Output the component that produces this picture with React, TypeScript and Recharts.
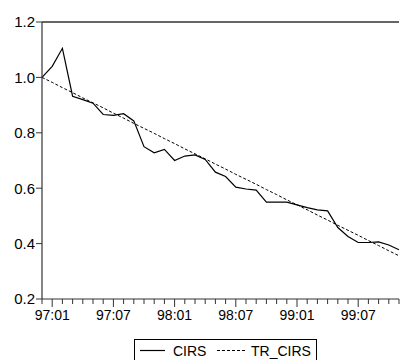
import React from 'react';
import { LineChart, Line, XAxis, YAxis, ReferenceLine } from 'recharts';

const months = [
  '96:12',
  '97:01', '97:02', '97:03', '97:04', '97:05', '97:06', '97:07', '97:08', '97:09', '97:10', '97:11', '97:12',
  '98:01', '98:02', '98:03', '98:04', '98:05', '98:06', '98:07', '98:08', '98:09', '98:10', '98:11', '98:12',
  '99:01', '99:02', '99:03', '99:04', '99:05', '99:06', '99:07', '99:08', '99:09', '99:10', '99:11',
];

const cirs = [
  1.0, 1.04, 1.105, 0.932, 0.92, 0.907, 0.866, 0.863, 0.869, 0.843, 0.75, 0.728,
  0.74, 0.7, 0.716, 0.72, 0.704, 0.658, 0.642, 0.604, 0.597, 0.593, 0.55, 0.55,
  0.55, 0.54, 0.53, 0.522, 0.518, 0.458, 0.426, 0.404, 0.404, 0.406, 0.395, 0.378,
];

const trCirs = [
  1.0, 0.982, 0.963, 0.945, 0.926, 0.908, 0.89, 0.871, 0.853, 0.834, 0.816, 0.798,
  0.779, 0.761, 0.742, 0.724, 0.706, 0.687, 0.669, 0.65, 0.632, 0.614, 0.595, 0.577,
  0.558, 0.54, 0.522, 0.503, 0.485, 0.466, 0.448, 0.43, 0.411, 0.393, 0.374, 0.356,
];

const yTicks = [0.2, 0.4, 0.6, 0.8, 1.0, 1.2];
const majorMonths = ['01', '07'];

const data = months.map((m, i) => ({ month: m, CIRS: cirs[i], TR_CIRS: trCirs[i] }));

const font = 'Arial, "Liberation Sans", sans-serif';

const XTick = (props: any) => {
  const { x, y, payload } = props;
  const v: string = payload.value;
  const major = majorMonths.includes(v.slice(3));
  return (
    <g>
      <line x1={x} x2={x} y1={y} y2={y + (major ? 8 : 5)} stroke="#333" strokeWidth={1} />
      {major && (
        <text x={x} y={y + 21} textAnchor="middle" fontSize={14} fontFamily={font} fill="#000">
          {v}
        </text>
      )}
    </g>
  );
};

export default function App() {
  return (
    <div style={{ position: 'absolute', left: 0, top: 0, width: 400, height: 360, background: '#fff' }}>
      <LineChart
        width={400}
        height={360}
        data={data}
        margin={{ top: 22, right: 1, bottom: 0, left: 0 }}
      >
        <XAxis
          dataKey="month"
          interval={0}
          tickLine={false}
          tickSize={0}
          tickMargin={0}
          height={61}
          axisLine={{ stroke: '#333', strokeWidth: 1.2 }}
          tick={<XTick />}
        />
        <YAxis
          domain={[0.2, 1.2]}
          ticks={yTicks}
          width={42}
          tickSize={6}
          tickMargin={1}
          tickFormatter={(v: number) => v.toFixed(1)}
          axisLine={{ stroke: '#333', strokeWidth: 1.2 }}
          tickLine={{ stroke: '#333' }}
          tick={{ fill: '#000', fontSize: 15, fontFamily: font }}
        />
        <ReferenceLine y={1.2} stroke="#666" strokeWidth={2} />
        <Line
          type="linear"
          dataKey="TR_CIRS"
          stroke="#000"
          strokeWidth={1}
          strokeDasharray="3 2"
          dot={false}
          isAnimationActive={false}
        />
        <Line
          type="linear"
          dataKey="CIRS"
          stroke="#000"
          strokeWidth={1.2}
          dot={false}
          isAnimationActive={false}
        />
      </LineChart>
      <svg
        width={184}
        height={24}
        style={{ position: 'absolute', left: 134, top: 339 }}
      >
        <rect x={0.5} y={0.5} width={182} height={24} fill="#fff" stroke="#000" strokeWidth={1} />
        <line x1={6} x2={31} y1={11.5} y2={11.5} stroke="#000" strokeWidth={1.2} />
        <text x={39} y={17} fontSize={14} fontFamily={font} fill="#000">CIRS</text>
        <line x1={83} x2={112} y1={11.5} y2={11.5} stroke="#000" strokeWidth={1} strokeDasharray="3 2" />
        <text x={117} y={17} fontSize={14} fontFamily={font} fill="#000">TR_CIRS</text>
      </svg>
    </div>
  );
}
